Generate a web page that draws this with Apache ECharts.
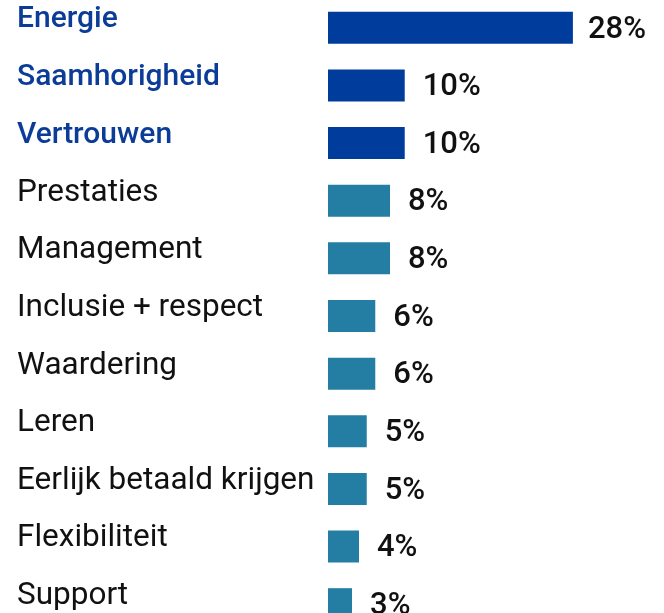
<!DOCTYPE html>
<html>
<head>
<meta charset="utf-8">
<script src="https://cdn.jsdelivr.net/npm/echarts@6/dist/echarts.min.js"></script>
<style>
  html, body { margin: 0; padding: 0; background: #fff; }
  #main { width: 664px; height: 613px; }
</style>
</head>
<body>
<div id="main"></div>
<script>
// categorieen, van boven naar beneden
const categories = [
  'Energie', 'Saamhorigheid', 'Vertrouwen', 'Prestaties', 'Management',
  'Inclusie + respect', 'Waardering', 'Leren', 'Eerlijk betaald krijgen',
  'Flexibiliteit', 'Support'
];
// balklengtes zoals
const barValues = [31.6, 9.9, 9.9, 8, 8, 6.1, 6.1, 5, 5, 4, 3.1];
// percentages zoals ze bij de balken staan
const pctLabels = ['28%', '10%', '10%', '8%', '8%', '6%', '6%', '5%', '5%', '4%', '3%'];
// top drie worden uitgelicht
const topNames = ['Energie', 'Saamhorigheid', 'Vertrouwen'];

const BLUE = '#003c9c';
const TEAL = '#247ea3';
const TEXT_BLUE = '#0b3c98';

const chart = echarts.init(document.getElementById('main'));

chart.setOption({
  animation: false,
  grid: { left: 328, right: 26, top: -1, height: 634, outerBoundsMode: 'none', containLabel: false },
  xAxis: {
    type: 'value',
    min: 0,
    max: 40,
    show: false
  },
  yAxis: {
    type: 'category',
    data: categories,
    inverse: true,
    axisLine: { show: false },
    axisTick: { show: false },
    splitLine: { show: false },
    axisLabel: {
      align: 'left',
      margin: 311,
      padding: [0, 0, 16, 0],
      formatter: (v) => (topNames.includes(v) ? '{b|' + v + '}' : '{n|' + v + '}'),
      rich: {
        b: { color: TEXT_BLUE, fontSize: 30, fontWeight: 500, fontFamily: 'Roboto' },
        n: { color: '#111', fontSize: 31.5, fontWeight: 'normal', fontFamily: 'Roboto' }
      }
    }
  },
  series: [{
    type: 'bar',
    barWidth: 32,
    data: barValues.map((v, i) => ({
      value: v,
      itemStyle: { color: topNames.includes(categories[i]) ? BLUE : TEAL },
      label: { distance: i === 0 ? 15 : 18 }
    })),
    label: {
      show: true,
      position: 'right',
      offset: [0, 2],
      formatter: (p) => pctLabels[p.dataIndex],
      color: '#111',
      fontSize: 31,
      fontWeight: 500,
      fontFamily: 'Roboto'
    }
  }]
});
</script>
</body>
</html>
